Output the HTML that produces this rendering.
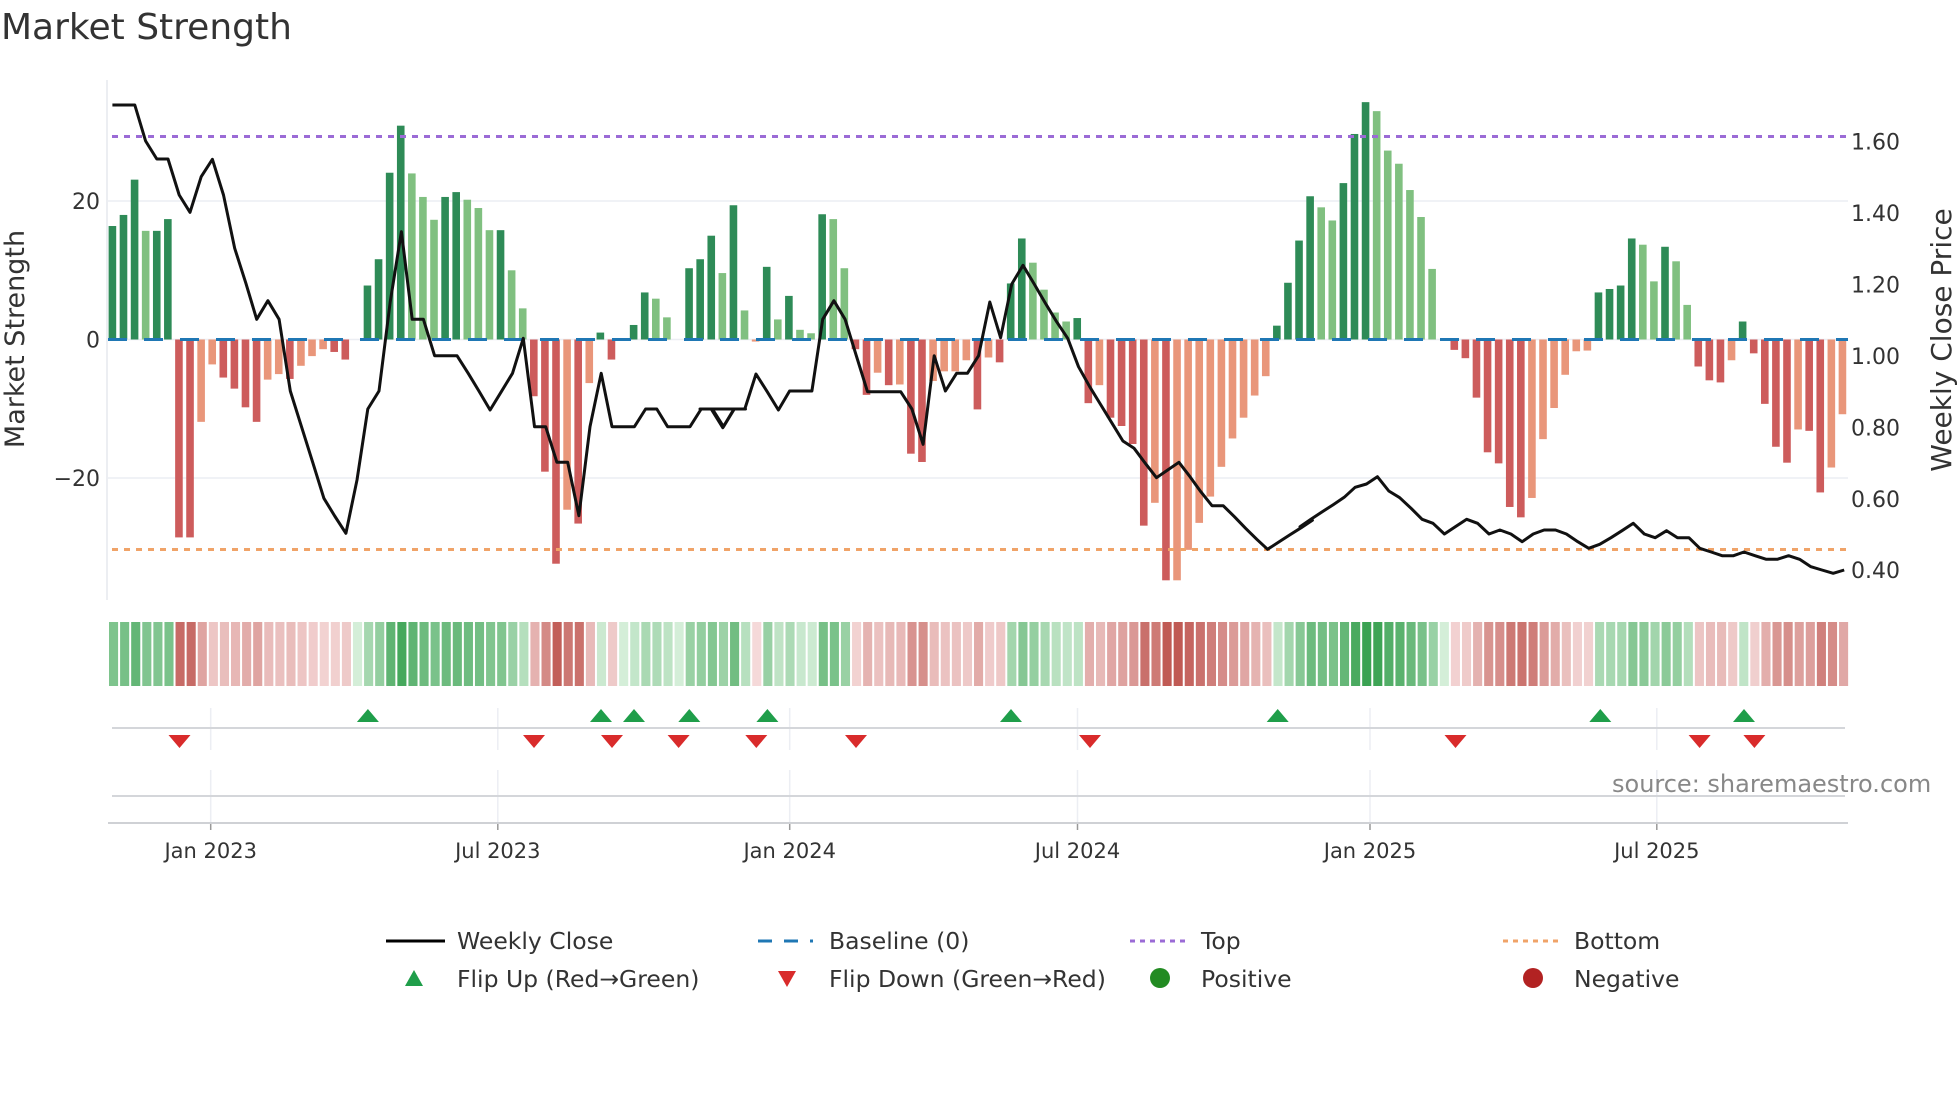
<!DOCTYPE html>
<html><head><meta charset="utf-8">
<style>
html,body{margin:0;padding:0;background:#fff;}
svg{display:block;font-family:"DejaVu Sans","Liberation Sans",sans-serif;}
</style></head>
<body>
<svg id="s" width="1960" height="1102" viewBox="0 0 1960 1102" xmlns="http://www.w3.org/2000/svg">
<rect width="1960" height="1102" fill="#fff"/>
<text x="1" y="39" font-size="36" fill="#333">Market Strength</text>
<g id="grid"></g>
<g id="bars"></g>
<g id="over"></g>
<g id="strip"></g>
<g id="marks"></g>
<g id="axis" fill="#333" font-size="22"></g>
<!-- legend -->
<g font-size="23.5" fill="#333">
<line x1="386" y1="941" x2="445" y2="941" stroke="#000" stroke-width="3"/>
<text x="457" y="949">Weekly Close</text>
<line x1="758" y1="941" x2="813" y2="941" stroke="#1f77b4" stroke-width="3" stroke-dasharray="14,12"/>
<text x="829" y="949">Baseline (0)</text>
<line x1="1130" y1="941" x2="1186" y2="941" stroke="#9b6bd6" stroke-width="3" stroke-dasharray="5,5"/>
<text x="1201" y="949">Top</text>
<line x1="1503" y1="941" x2="1559" y2="941" stroke="#f0a368" stroke-width="3" stroke-dasharray="5,5"/>
<text x="1574" y="949">Bottom</text>
<polygon points="405,986 423,986 414,970" fill="#1f9e4a"/>
<text x="457" y="987">Flip Up (Red→Green)</text>
<polygon points="778,971 796,971 787,987" fill="#d92b2b"/>
<text x="829" y="987">Flip Down (Green→Red)</text>
<circle cx="1160" cy="978" r="10" fill="#228b22"/>
<text x="1201" y="987">Positive</text>
<circle cx="1533" cy="978" r="10" fill="#b22222"/>
<text x="1574" y="987">Negative</text>
</g>
<text x="1612" y="792" font-size="24" fill="#888">source: sharemaestro.com</text>
</svg>
<script>
var NS="http://www.w3.org/2000/svg";
function el(p,t,a){var e=document.createElementNS(NS,t);for(var k in a)e.setAttribute(k,a[k]);p.appendChild(e);return e;}
var DG="#2e8b57",LG="#80c080",DR="#cd5c5c",LR="#e9967a";
var V=[[16.4,DG],[18,DG],[23.1,DG],[15.7,LG],[15.7,DG],[17.4,DG],[-28.6,DR],[-28.6,DR],[-11.9,LR],[-3.6,LR],
[-5.5,DR],[-7.1,DR],[-9.8,DR],[-11.9,DR],[-5.8,LR],[-5,LR],[-5.7,DR],[-3.8,LR],[-2.4,LR],[-1.4,LR],
[-1.8,DR],[-2.9,DR],[0,DG],[7.8,DG],[11.6,DG],[24.1,DG],[30.9,DG],[24,LG],[20.6,LG],[17.3,LG],
[20.6,DG],[21.3,DG],[20.2,LG],[19,LG],[15.8,LG],[15.8,DG],[10,LG],[4.5,LG],[-8.2,DR],[-19.1,DR],
[-32.4,DR],[-24.6,LR],[-26.6,DR],[-6.3,LR],[1,DG],[-2.9,DR],[0,DG],[2.1,DG],[6.8,DG],[5.9,LG],
[3.2,LG],[0,DG],[10.3,DG],[11.6,DG],[15,DG],[9.6,LG],[19.4,DG],[4.2,LG],[-0.3,LR],[10.5,DG],
[2.9,LG],[6.3,DG],[1.4,LG],[0.9,LG],[18.1,DG],[17.4,LG],[10.3,LG],[-1.4,DR],[-8,DR],[-4.8,LR],
[-6.6,DR],[-6.5,LR],[-16.5,DR],[-17.7,DR],[-6,LR],[-4.6,LR],[-4.6,LR],[-3,LR],[-10.1,DR],[-2.6,LR],
[-3.3,DR],[8.1,DG],[14.6,DG],[11.1,LG],[7.2,LG],[3.9,LG],[2.6,LG],[3.1,DG],[-9.2,DR],[-6.6,LR],
[-11.3,DR],[-12.5,DR],[-15.1,DR],[-26.9,DR],[-23.6,LR],[-34.8,DR],[-34.8,LR],[-30.4,LR],[-26.5,LR],[-22.7,LR],
[-18.4,LR],[-14.3,LR],[-11.3,LR],[-8.1,LR],[-5.3,LR],[2,DG],[8.2,DG],[14.3,DG],[20.7,DG],[19.1,LG],
[17.2,LG],[22.6,DG],[29.7,DG],[34.3,DG],[33,LG],[27.3,LG],[25.4,LG],[21.6,LG],[17.7,LG],[10.2,LG],
[0,DG],[-1.5,DR],[-2.7,DR],[-8.4,DR],[-16.3,DR],[-17.9,DR],[-24.2,DR],[-25.7,DR],[-22.9,LR],[-14.4,LR],
[-9.9,LR],[-5.1,LR],[-1.7,LR],[-1.6,LR],[6.8,DG],[7.3,DG],[7.8,DG],[14.6,DG],[13.7,LG],[8.4,LG],
[13.4,DG],[11.3,LG],[5,LG],[-3.9,DR],[-5.9,DR],[-6.2,DR],[-3,LR],[2.6,DG],[-2,DR],[-9.3,DR],
[-15.5,DR],[-17.8,DR],[-13,LR],[-13.2,DR],[-22.1,DR],[-18.5,LR],[-10.8,LR]];
var Z=339.5,U=6.92,X0=112.4,ST=11.09;
var g=document.getElementById("grid");
el(g,"line",{x1:107,y1:80,x2:107,y2:600,stroke:"#e6e8ee","stroke-width":1.5});
[[201,"20"],[Z,"0"],[478,"−20"]].forEach(function(t){
 el(g,"line",{x1:108,y1:t[0],x2:1848,y2:t[0],stroke:"#eceef3","stroke-width":1.5});
});
var b=document.getElementById("bars");
V.forEach(function(v,i){var x=X0+i*ST-3.8,h=Math.abs(v[0])*U;if(h<0.5)return;
 el(b,"rect",{x:x,y:v[0]>0?Z-h:Z,width:7.6,height:h,fill:v[1]});});
var o=document.getElementById("over");
el(o,"line",{x1:108,y1:Z,x2:1848,y2:Z,stroke:"#1f77b4","stroke-width":3,"stroke-dasharray":"19,17"});
el(o,"line",{x1:112,y1:136.5,x2:1848,y2:136.5,stroke:"#9b6bd6","stroke-width":3,"stroke-dasharray":"6,6"});
el(o,"line",{x1:112,y1:549.5,x2:1848,y2:549.5,stroke:"#f0a368","stroke-width":3,"stroke-dasharray":"6,6"});
var p1=[[30,75],[84,75],[110,183],[137,237],[164,237],[191,345],[217,397],[244,290],[271,238],[298,345],[325,505],[352,610],[378,718],[405,662],[432,718],[459,933],[486,1040],[513,1147],[540,1255],[566,1308],[593,1360],[620,1200],[646,987],[673,933],[700,666],[727,455],[753,718],[780,718],[807,827],[861,827],[888,880],[914,933],[941,990],[968,935],[995,880],[1021,775],[1048,1040],[1075,1040],[1102,1147],[1128,1147],[1155,1307],[1182,1040],[1209,880],[1235,1040],[1289,1040],[1316,987],[1343,987],[1369,1040],[1423,1040],[1450,987],[1477,987],[1504,1040],[1530,987],[1557,987]];
var p2=[[0,987],[27,987],[55,1043],[82,987],[108,987],[135,882],[162,935],[189,990],[216,933],[270,933],[296,718],[323,662],[350,718],[377,827],[404,935],[484,935],[511,987],[538,1093],[565,827],[592,933],[619,880],[645,880],[672,827],[699,666],[725,773],[752,612],[779,556],[806,612],[833,670],[860,725],[887,775],[913,860],[940,920],[967,975],[994,1030],[1020,1083],[1047,1105],[1074,1150],[1101,1193],[1128,1170],[1155,1147],[1182,1190],[1208,1235],[1235,1277],[1262,1277],[1289,1310],[1316,1345],[1343,1378],[1369,1408],[1396,1386],[1423,1364],[1450,1343],[1477,1321]];
var p3=[[0,1340],[26,1318],[52,1296],[79,1274],[105,1252],[131,1222],[158,1212],[184,1190],[211,1233],[237,1253],[264,1285],[290,1318],[316,1330],[343,1362],[369,1340],[396,1318],[422,1330],[449,1362],[475,1350],[501,1362],[528,1385],[554,1362],[580,1350],[607,1350],[633,1362],[660,1385],[686,1405],[712,1393],[739,1373],[765,1352],[792,1330],[818,1362],[844,1373],[871,1352],[897,1373],[924,1373],[950,1405],[977,1416],[1003,1427],[1030,1427],[1055,1416],[1081,1427],[1108,1438],[1134,1438],[1161,1427],[1187,1438],[1214,1460],[1240,1470],[1267,1480],[1293,1470]];
var pts=[];
p1.forEach(function(p){pts.push([100+p[0]/2.412,80+p[1]/3]);});
p2.forEach(function(p){pts.push([700+p[0]/2.412,80+p[1]/3]);});
p3.forEach(function(p){pts.push([1300+p[0]/2.376,80+p[1]/3]);});
el(o,"polyline",{points:pts.map(function(p){return p[0].toFixed(1)+","+p[1].toFixed(1);}).join(" "),fill:"none",stroke:"#111","stroke-width":3,"stroke-linejoin":"round"});
var s=document.getElementById("strip");
function mix(a,c,t){return "rgb("+a.map(function(x,k){return Math.round(x+(c[k]-x)*t);}).join(",")+")";}
V.forEach(function(v,i){var t=Math.min(Math.abs(v[0])/34,1);t=Math.pow(t,0.8);
 var col=v[0]>=0?mix([212,238,216],[58,162,82],t):mix([246,220,220],[192,90,84],t);
 el(s,"rect",{x:108+i*ST+1,y:622,width:ST-2,height:64,fill:col});});
var m=document.getElementById("marks");
[210.7,497.8,789.7,1077.5,1370,1656.8].forEach(function(x){
 el(m,"line",{x1:x,y1:708,x2:x,y2:750,stroke:"#eceef3","stroke-width":1.5});
 el(m,"line",{x1:x,y1:770,x2:x,y2:822,stroke:"#eceef3","stroke-width":1.5});
 el(m,"line",{x1:x,y1:822,x2:x,y2:830,stroke:"#999","stroke-width":1.5});
});
el(m,"line",{x1:112,y1:728,x2:1845,y2:728,stroke:"#d4d6da","stroke-width":2});
el(m,"line",{x1:112,y1:796,x2:1845,y2:796,stroke:"#d4d6da","stroke-width":2});
el(m,"line",{x1:108,y1:823,x2:1848,y2:823,stroke:"#cfd1d5","stroke-width":2});
[367.9,601,634,689.3,767.4,1011,1277.7,1600.3,1744].forEach(function(x){
 el(m,"polygon",{points:(x-11)+",722 "+(x+11)+",722 "+x+",709",fill:"#1f9e4a"});});
[179.5,534,612,678.6,756.3,856,1090,1455.5,1699.6,1754.4].forEach(function(x){
 el(m,"polygon",{points:(x-11)+",735 "+(x+11)+",735 "+x+",748",fill:"#d92b2b"});});
var a=document.getElementById("axis");
[[201,"20"],[Z,"0"],[478,"−20"]].forEach(function(t){
 var e=el(a,"text",{x:100,y:t[0]+8,"text-anchor":"end"});e.textContent=t[1];});
[[141.7,"1.60"],[213,"1.40"],[284.6,"1.20"],[356,"1.00"],[427.5,"0.80"],[499,"0.60"],[570,"0.40"]].forEach(function(t){
 var e=el(a,"text",{x:1851,y:t[0]+8});e.textContent=t[1];});
[[210.7,"Jan 2023"],[497.8,"Jul 2023"],[789.7,"Jan 2024"],[1077.5,"Jul 2024"],[1370,"Jan 2025"],[1656.8,"Jul 2025"]].forEach(function(t){
 var e=el(a,"text",{x:t[0],y:858,"text-anchor":"middle","font-size":"21"});e.textContent=t[1];});
var e=el(a,"text",{x:0,y:0,"text-anchor":"middle","font-size":"27",transform:"translate(24,339) rotate(-90)"});e.textContent="Market Strength";
e=el(a,"text",{x:0,y:0,"text-anchor":"middle","font-size":"28",transform:"translate(1951,340) rotate(-90)"});e.textContent="Weekly Close Price";
</script>
</body></html>
